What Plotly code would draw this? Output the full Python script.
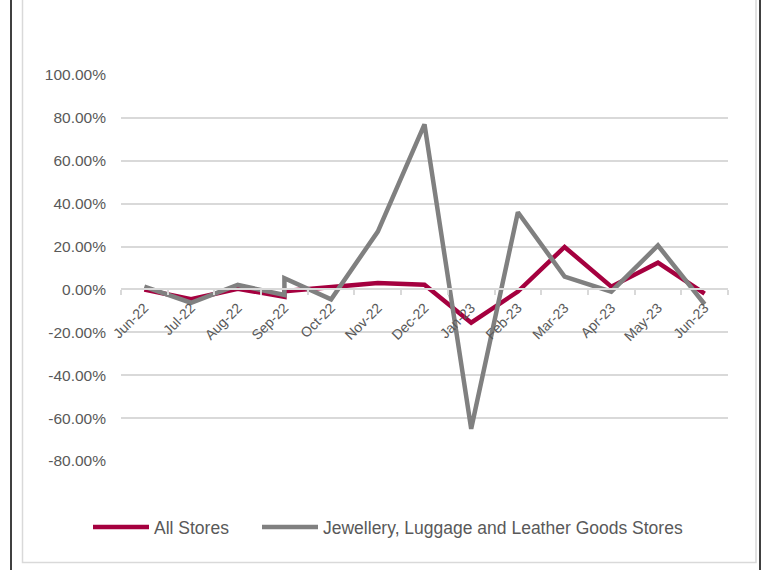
import plotly.graph_objects as go

# ---- data ----
categories = ["Jun-22", "Jul-22", "Aug-22", "Sep-22", "Oct-22", "Nov-22", "Dec-22",
              "Jan-23", "Feb-23", "Mar-23", "Apr-23", "May-23", "Jun-23"]
# the source series contain two observations for Sep-22
x_points = ["Jun-22", "Jul-22", "Aug-22", "Sep-22", "Sep-22", "Oct-22", "Nov-22", "Dec-22",
            "Jan-23", "Feb-23", "Mar-23", "Apr-23", "May-23", "Jun-23"]
all_stores = [0.0, -4.6, 0.3, -3.4, -0.8, 1.2, 3.0, 2.2, -15.5, -1.0, 19.8, 1.3, 12.5, -2.0]
jewellery = [1.3, -6.2, 2.1, -2.6, 5.2, -4.6, 27.0, 77.0, -65.0, 36.0, 6.0, -1.0, 20.5, -6.9]
y_ticks = [-80, -60, -40, -20, 0, 20, 40, 60, 80, 100]
y_tick_labels = [f"{v:.2f}%" for v in y_ticks]
series_names = ["All Stores", "Jewellery, Luggage and Leather Goods Stores"]

# ---- layout geometry ----
W, H = 765, 570
ML, MR, MT, MB = 121, 37, 75, 109
PW, PH = W - ML - MR, H - MT - MB
y_min, y_max = -80, 100


def px_x(px):
    return (px - ML) / PW


def px_y(py):
    return (H - MB - py) / PH


FONT = "Liberation Sans, Arial, sans-serif"
TXT = "#595959"
GRID = "#D9D9D9"

fig = go.Figure()
fig.add_trace(go.Scatter(x=x_points, y=all_stores, mode="lines", name=series_names[0],
                         line=dict(color="#A5003F", width=4.5), legend="legend"))
fig.add_trace(go.Scatter(x=x_points, y=jewellery, mode="lines", name=series_names[1],
                         line=dict(color="#808080", width=4.5), legend="legend2"))

legend_common = dict(orientation="h", yanchor="middle", xanchor="left",
                     font=dict(size=17.5, color=TXT), itemwidth=56,
                     bgcolor="rgba(0,0,0,0)")

fig.update_layout(
    width=W, height=H,
    margin=dict(l=ML, r=MR, t=MT, b=MB),
    paper_bgcolor="white", plot_bgcolor="white",
    font=dict(family=FONT, color=TXT),
    showlegend=True,
    legend=dict(x=px_x(88), y=px_y(527), **legend_common),
    legend2=dict(x=px_x(257), y=px_y(527), **legend_common),
    xaxis=dict(type="category", categoryorder="array", categoryarray=categories,
               tickvals=categories, range=[-0.5, len(categories) - 0.5],
               anchor="free", position=(0 - y_min) / (y_max - y_min),
               showline=True, linecolor=GRID, linewidth=1.5,
               ticks="outside", tickson="boundaries", ticklen=5, tickcolor=GRID, tickwidth=1.5,
               tickangle=-45, showgrid=False, zeroline=False, ticklabelstandoff=4,
               tickfont=dict(size=14, color=TXT)),
    yaxis=dict(range=[y_min, y_max], tickvals=y_ticks, ticktext=y_tick_labels,
               showgrid=True, gridcolor=GRID, gridwidth=1.5, zeroline=False,
               showline=False, ticks="", ticklabelstandoff=14,
               tickfont=dict(size=15.5, color=TXT)),
    shapes=[
        # outer black frame edges
        dict(type="line", xref="paper", yref="paper", x0=px_x(11), x1=px_x(11),
             y0=px_y(-5), y1=px_y(575), line=dict(color="black", width=1.5)),
        dict(type="line", xref="paper", yref="paper", x0=px_x(760), x1=px_x(760),
             y0=px_y(-5), y1=px_y(575), line=dict(color="black", width=1.5)),
        # inner light chart-area border
        dict(type="path", xref="paper", yref="paper",
             path=f"M {px_x(22.5)},{px_y(-5)} L {px_x(22.5)},{px_y(562.5)} "
                  f"L {px_x(756)},{px_y(562.5)} L {px_x(756)},{px_y(-5)}",
             line=dict(color=GRID, width=1.5)),
    ],
)

fig.write_html("out.html")
